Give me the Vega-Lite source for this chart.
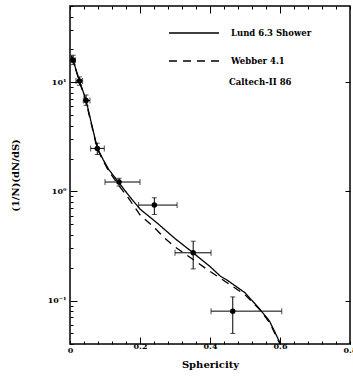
{
  "$schema": "https://vega.github.io/schema/vega-lite/v6.json",
  "autosize": {"type": "none"},
  "width": 280,
  "height": 338,
  "padding": {"left": 70, "top": 6, "right": 3, "bottom": 32},
  "config": {
    "view": {"stroke": "black", "strokeWidth": 1.5},
    "font": "DejaVu Serif",
    "axis": {
      "domain": false,
      "grid": false,
      "tickColor": "black",
      "tickWidth": 1,
      "labelColor": "black",
      "titleColor": "black",
      "labelFont": "DejaVu Serif",
      "titleFont": "DejaVu Serif",
      "labelFontWeight": "bold",
      "titleFontWeight": "bold",
      "labelFontSize": 8,
      "titleFontSize": 10
    }
  },
  "datasets": {
    "points": [
      {"x": 0.009, "y": 15.9, "xlo": 0.003, "xhi": 0.015, "ylo": 14.5, "yhi": 17.7},
      {"x": 0.027, "y": 10.3, "xlo": 0.017, "xhi": 0.036, "ylo": 9.4, "yhi": 11.2},
      {"x": 0.046, "y": 6.8, "xlo": 0.038, "xhi": 0.057, "ylo": 6.15, "yhi": 7.65},
      {"x": 0.078, "y": 2.48, "xlo": 0.059, "xhi": 0.098, "ylo": 2.18, "yhi": 2.77},
      {"x": 0.14, "y": 1.22, "xlo": 0.1, "xhi": 0.2, "ylo": 1.12, "yhi": 1.32},
      {"x": 0.241, "y": 0.75, "xlo": 0.196, "xhi": 0.306, "ylo": 0.615, "yhi": 0.875},
      {"x": 0.352, "y": 0.274, "xlo": 0.3, "xhi": 0.403, "ylo": 0.195, "yhi": 0.35},
      {"x": 0.465, "y": 0.08, "xlo": 0.403, "xhi": 0.605, "ylo": 0.05, "yhi": 0.108}
    ],
    "curves": [
      {"model": "Lund 6.3 Shower", "x": 0.004, "y": 17.5},
      {"model": "Lund 6.3 Shower", "x": 0.01, "y": 15.5},
      {"model": "Lund 6.3 Shower", "x": 0.018, "y": 12.8},
      {"model": "Lund 6.3 Shower", "x": 0.027, "y": 10.3},
      {"model": "Lund 6.3 Shower", "x": 0.036, "y": 8.5},
      {"model": "Lund 6.3 Shower", "x": 0.046, "y": 6.8},
      {"model": "Lund 6.3 Shower", "x": 0.062, "y": 4.1},
      {"model": "Lund 6.3 Shower", "x": 0.078, "y": 2.5},
      {"model": "Lund 6.3 Shower", "x": 0.095, "y": 1.95},
      {"model": "Lund 6.3 Shower", "x": 0.11, "y": 1.6},
      {"model": "Lund 6.3 Shower", "x": 0.14, "y": 1.2},
      {"model": "Lund 6.3 Shower", "x": 0.17, "y": 0.9},
      {"model": "Lund 6.3 Shower", "x": 0.2, "y": 0.69},
      {"model": "Lund 6.3 Shower", "x": 0.25, "y": 0.51},
      {"model": "Lund 6.3 Shower", "x": 0.3, "y": 0.37},
      {"model": "Lund 6.3 Shower", "x": 0.35, "y": 0.277},
      {"model": "Lund 6.3 Shower", "x": 0.4, "y": 0.205},
      {"model": "Lund 6.3 Shower", "x": 0.43, "y": 0.167},
      {"model": "Lund 6.3 Shower", "x": 0.45, "y": 0.153},
      {"model": "Lund 6.3 Shower", "x": 0.5, "y": 0.118},
      {"model": "Lund 6.3 Shower", "x": 0.54, "y": 0.085},
      {"model": "Lund 6.3 Shower", "x": 0.57, "y": 0.065},
      {"model": "Lund 6.3 Shower", "x": 0.6, "y": 0.041},
      {"model": "Webber 4.1", "x": 0.004, "y": 17.5},
      {"model": "Webber 4.1", "x": 0.01, "y": 15.5},
      {"model": "Webber 4.1", "x": 0.018, "y": 12.6},
      {"model": "Webber 4.1", "x": 0.027, "y": 10.1},
      {"model": "Webber 4.1", "x": 0.036, "y": 8.3},
      {"model": "Webber 4.1", "x": 0.046, "y": 6.6},
      {"model": "Webber 4.1", "x": 0.062, "y": 4.0},
      {"model": "Webber 4.1", "x": 0.078, "y": 2.45},
      {"model": "Webber 4.1", "x": 0.095, "y": 1.9},
      {"model": "Webber 4.1", "x": 0.11, "y": 1.55},
      {"model": "Webber 4.1", "x": 0.14, "y": 1.13},
      {"model": "Webber 4.1", "x": 0.17, "y": 0.84},
      {"model": "Webber 4.1", "x": 0.2, "y": 0.61},
      {"model": "Webber 4.1", "x": 0.24, "y": 0.47},
      {"model": "Webber 4.1", "x": 0.27, "y": 0.375},
      {"model": "Webber 4.1", "x": 0.3, "y": 0.31},
      {"model": "Webber 4.1", "x": 0.35, "y": 0.24},
      {"model": "Webber 4.1", "x": 0.4, "y": 0.185},
      {"model": "Webber 4.1", "x": 0.45, "y": 0.145},
      {"model": "Webber 4.1", "x": 0.5, "y": 0.113},
      {"model": "Webber 4.1", "x": 0.54, "y": 0.084},
      {"model": "Webber 4.1", "x": 0.57, "y": 0.063},
      {"model": "Webber 4.1", "x": 0.6, "y": 0.04}
    ]
  },
  "resolve": {"axis": {"x": "independent", "y": "independent"}},
  "layer": [
    {
      "data": {"name": "curves"},
      "mark": {"type": "line", "color": "black", "strokeWidth": 1.3},
      "encoding": {
        "x": {
          "field": "x", "type": "quantitative",
          "scale": {"domain": [0, 0.8], "nice": false, "zero": false},
          "axis": {
            "orient": "bottom",
            "title": "Sphericity",
            "values": [0, 0.04, 0.08, 0.12, 0.16, 0.2, 0.24, 0.28, 0.32, 0.36, 0.4, 0.44, 0.48, 0.52, 0.56, 0.6, 0.64, 0.68, 0.72, 0.76, 0.8],
            "labelExpr": "datum.value == 0 ? '0' : (datum.value == 0.2 || datum.value == 0.4 || datum.value == 0.6 || datum.value == 0.8) ? format(datum.value, '.1f') : ''",
            "tickSize": {"condition": {"test": "datum.value == 0.2 || datum.value == 0.4 || datum.value == 0.6", "value": -7}, "value": -3},
            "labelPadding": 5,
            "titlePadding": 5,
            "labelFlush": false
          }
        },
        "y": {
          "field": "y", "type": "quantitative",
          "scale": {"type": "log", "domain": [0.04, 50], "nice": false},
          "axis": {
            "orient": "left",
            "title": "(1/N)(dN/dS)",
            "values": [0.04, 0.05, 0.06, 0.07, 0.08, 0.09, 0.1, 0.2, 0.3, 0.4, 0.5, 0.6, 0.7, 0.8, 0.9, 1, 2, 3, 4, 5, 6, 7, 8, 9, 10, 20, 30, 40, 50],
            "labelExpr": "datum.value == 10 ? '10¹' : datum.value == 1 ? '10⁰' : datum.value == 0.1 ? '10⁻¹' : ''",
            "tickSize": {"condition": {"test": "datum.value == 0.1 || datum.value == 1 || datum.value == 10", "value": -7}, "value": -3},
            "labelPadding": 11,
            "titlePadding": 27
          }
        },
        "strokeDash": {
          "field": "model", "type": "nominal",
          "scale": {"domain": ["Lund 6.3 Shower", "Webber 4.1"], "range": [[1, 0], [8, 6]]},
          "legend": {
            "orient": "none",
            "legendX": 113,
            "legendY": 16,
            "padding": 0,
            "title": "Caltech-II 86",
            "titleOrient": "bottom",
            "titleAnchor": "start",
            "titleAlign": "left",
            "titleFontSize": 8.5,
            "titleFontWeight": "bold",
            "titleColor": "black",
            "titlePadding": 12,
            "labelFontSize": 8.5,
            "labelFontWeight": "bold",
            "labelColor": "black",
            "labelOffset": 26,
            "rowPadding": 12,
            "symbolType": "M-2.5,0L2.5,0",
            "symbolSize": 400,
            "symbolStrokeWidth": 1.3,
            "symbolStrokeColor": "black",
            "encode": {"title": {"update": {"dx": {"value": 46}}}}
          }
        }
      }
    },
    {
      "data": {"name": "points"},
      "mark": {"type": "rule", "color": "black", "strokeWidth": 1},
      "encoding": {
        "x": {"field": "xlo", "type": "quantitative", "axis": null},
        "x2": {"field": "xhi"},
        "y": {"field": "y", "type": "quantitative", "axis": null}
      }
    },
    {
      "data": {"name": "points"},
      "mark": {"type": "rule", "color": "black", "strokeWidth": 1},
      "encoding": {
        "x": {"field": "x", "type": "quantitative", "axis": null},
        "y": {"field": "ylo", "type": "quantitative", "axis": null},
        "y2": {"field": "yhi"}
      }
    },
    {
      "data": {"name": "points"},
      "mark": {"type": "tick", "orient": "vertical", "size": 6, "thickness": 1, "color": "black"},
      "encoding": {
        "x": {"field": "xlo", "type": "quantitative", "axis": null},
        "y": {"field": "y", "type": "quantitative", "axis": null}
      }
    },
    {
      "data": {"name": "points"},
      "mark": {"type": "tick", "orient": "vertical", "size": 6, "thickness": 1, "color": "black"},
      "encoding": {
        "x": {"field": "xhi", "type": "quantitative", "axis": null},
        "y": {"field": "y", "type": "quantitative", "axis": null}
      }
    },
    {
      "data": {"name": "points"},
      "mark": {"type": "tick", "orient": "horizontal", "size": 5, "thickness": 1, "color": "black"},
      "encoding": {
        "x": {"field": "x", "type": "quantitative", "axis": null},
        "y": {"field": "ylo", "type": "quantitative", "axis": null}
      }
    },
    {
      "data": {"name": "points"},
      "mark": {"type": "tick", "orient": "horizontal", "size": 5, "thickness": 1, "color": "black"},
      "encoding": {
        "x": {"field": "x", "type": "quantitative", "axis": null},
        "y": {"field": "yhi", "type": "quantitative", "axis": null}
      }
    },
    {
      "data": {"name": "points"},
      "mark": {"type": "point", "shape": "circle", "filled": true, "size": 30, "color": "black", "opacity": 1},
      "encoding": {
        "x": {"field": "x", "type": "quantitative", "axis": null},
        "y": {"field": "y", "type": "quantitative", "axis": null}
      }
    },
    {
      "data": {"name": "points"},
      "mark": {"type": "point", "opacity": 0},
      "encoding": {
        "x": {
          "field": "x", "type": "quantitative",
          "axis": {
            "orient": "top", "labels": false, "title": null,
            "values": [0, 0.04, 0.08, 0.12, 0.16, 0.2, 0.24, 0.28, 0.32, 0.36, 0.4, 0.44, 0.48, 0.52, 0.56, 0.6, 0.64, 0.68, 0.72, 0.76, 0.8],
            "tickSize": {"condition": {"test": "datum.value == 0.2 || datum.value == 0.4 || datum.value == 0.6", "value": -7}, "value": -3}
          }
        },
        "y": {
          "field": "y", "type": "quantitative",
          "axis": {
            "orient": "right", "labels": false, "title": null,
            "values": [0.1, 1, 10],
            "tickSize": -5
          }
        }
      }
    }
  ]
}
